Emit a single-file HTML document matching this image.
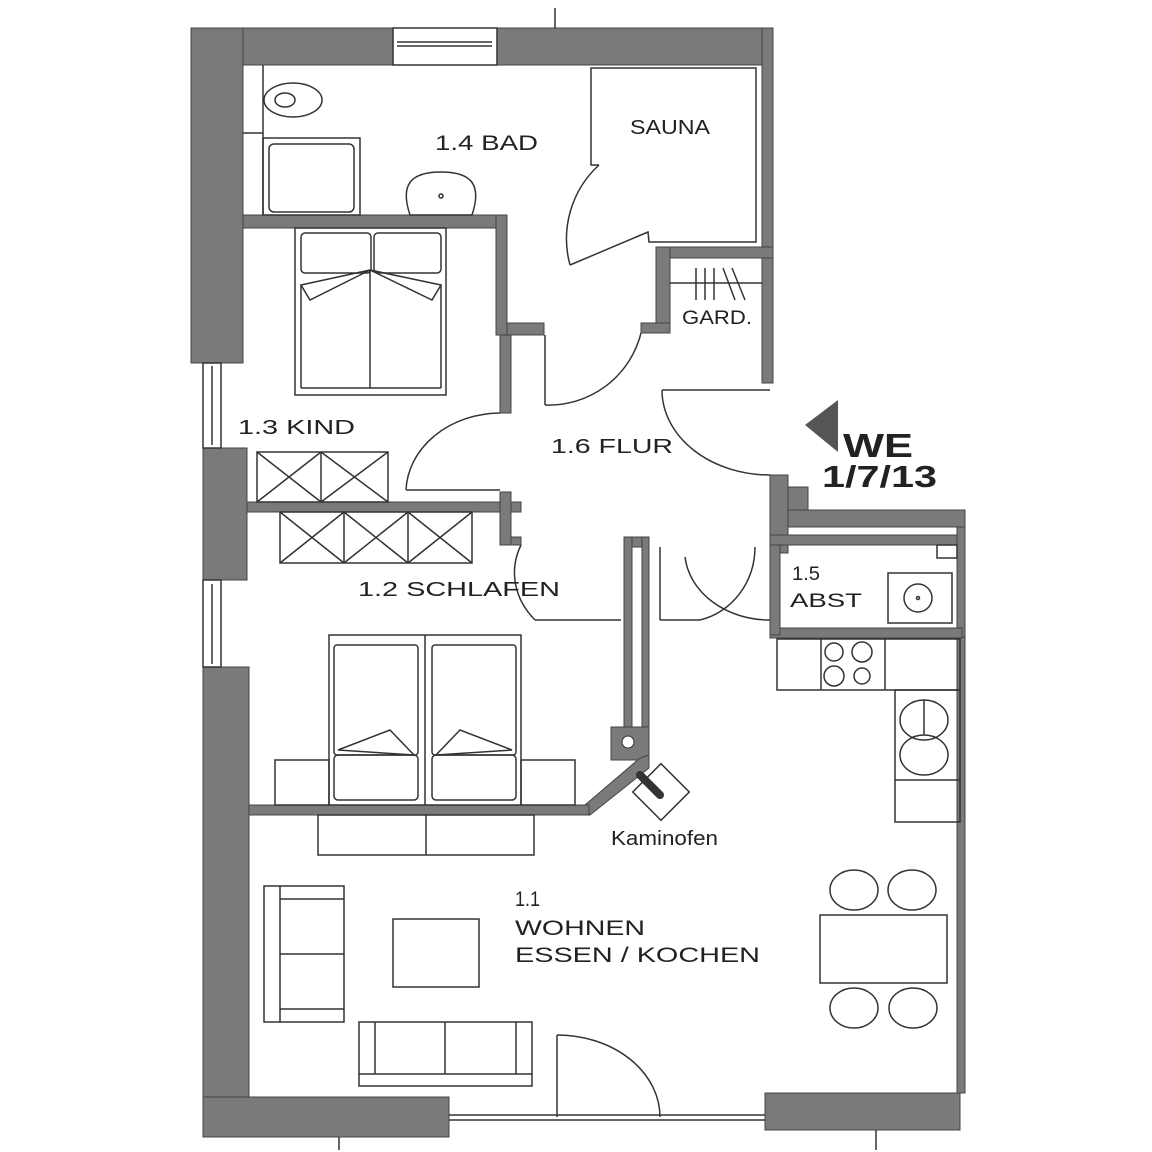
<!DOCTYPE html>
<html><head><meta charset="utf-8"><style>
html,body{margin:0;padding:0;background:#fff}
svg{display:block}
text{font-family:"Liberation Sans",sans-serif;fill:#222}
</style></head><body>
<svg width="1152" height="1152" viewBox="0 0 1152 1152" xmlns="http://www.w3.org/2000/svg">
<rect width="1152" height="1152" fill="#fff"/>
<g fill="#7a7a7a" stroke="#444" stroke-width="1">
<rect x="191" y="28" width="202" height="37"/>
<rect x="497" y="28" width="276" height="37"/>
<rect x="762" y="28" width="11" height="355"/>
<rect x="191" y="28" width="52" height="335"/>
<rect x="203" y="448" width="44" height="132"/>
<rect x="203" y="667" width="46" height="470"/>
<rect x="203" y="1097" width="246" height="40"/>
<rect x="765" y="1093" width="195" height="37"/>
<rect x="957" y="527" width="8" height="566"/>
<rect x="243" y="215" width="264" height="13"/>
<rect x="496" y="215" width="11" height="120"/>
<rect x="507" y="323" width="37" height="12"/>
<rect x="500" y="335" width="11" height="78"/>
<rect x="247" y="502" width="274" height="10"/>
<rect x="500" y="492" width="11" height="53"/>
<rect x="511" y="537" width="10" height="8"/>
<rect x="656" y="247" width="117" height="11"/>
<rect x="656" y="247" width="14" height="86"/>
<rect x="641" y="323" width="29" height="10"/>
<rect x="770" y="475" width="18" height="78"/>
<rect x="788" y="487" width="20" height="40"/>
<rect x="788" y="510" width="177" height="17"/>
<rect x="770" y="535" width="190" height="10"/>
<rect x="957" y="527" width="8" height="110"/>
<rect x="770" y="628" width="192" height="10"/>
<rect x="770" y="545" width="10" height="90"/>
<rect x="624" y="537" width="25" height="10"/>
<rect x="624" y="537" width="8" height="200"/>
<rect x="642" y="537" width="7" height="200"/>
<rect x="611" y="727" width="38" height="33"/>
<polygon points="649,755 649,768 590,815 585,805 640,758"/>
<rect x="249" y="805" width="340" height="10"/>
</g>
<circle cx="628" cy="742" r="6" fill="#fff" stroke="#333"/>
<g fill="none" stroke="#333" stroke-width="1.5">
<rect x="393" y="28" width="104" height="37" fill="#fff"/>
<line x1="397" y1="42" x2="492" y2="42"/><line x1="397" y1="46" x2="492" y2="46"/>
<rect x="203" y="363" width="18" height="85" fill="#fff"/><line x1="212" y1="366" x2="212" y2="445"/>
<rect x="203" y="580" width="18" height="87" fill="#fff"/><line x1="212" y1="584" x2="212" y2="664"/>
<line x1="449" y1="1115" x2="765" y2="1115"/><line x1="449" y1="1120" x2="765" y2="1120"/>
<line x1="339" y1="1137" x2="339" y2="1150"/><line x1="876" y1="1130" x2="876" y2="1150"/>
<line x1="555" y1="8" x2="555" y2="28"/>
<line x1="263" y1="65" x2="263" y2="215"/><line x1="243" y1="133" x2="263" y2="133"/>
<ellipse cx="293" cy="100" rx="29" ry="17"/><ellipse cx="285" cy="100" rx="10" ry="7"/>
<rect x="263" y="138" width="97" height="77"/><rect x="269" y="144" width="85" height="68" rx="5"/>
<path d="M410,215 C400,185 410,172 441,172 C472,172 482,185 472,215 Z"/><circle cx="441" cy="196" r="2"/>
<path d="M599,165 L591,165 L591,68 L756,68 L756,242 L649,242 L648,232 L570,265"/>
<path d="M599,165 A100,100 0 0 0 570,265"/>
<line x1="670" y1="283" x2="762" y2="283"/>
<line x1="696" y1="268" x2="696" y2="300"/><line x1="705" y1="268" x2="705" y2="300"/><line x1="714" y1="268" x2="714" y2="300"/>
<line x1="723" y1="268" x2="735" y2="300"/><line x1="732" y1="268" x2="745" y2="300"/>
<line x1="545" y1="335" x2="545" y2="405"/><path d="M545,405 A95,95 0 0 0 641,333"/>
<line x1="500" y1="490" x2="406" y2="490"/><path d="M406,490 A95,80 0 0 1 500,413"/>
<line x1="770" y1="390" x2="662" y2="390"/><path d="M662,390 A108,85 0 0 0 770,475"/>
<line x1="621" y1="620" x2="535" y2="620"/><path d="M535,620 A92,75 0 0 1 521,545"/>
<line x1="660" y1="547" x2="660" y2="620"/><line x1="660" y1="620" x2="700" y2="620"/>
<path d="M685,557 A85,70 0 0 0 770,620"/>
<path d="M755,547 A70,75 0 0 1 700,620"/>
<line x1="557" y1="1117" x2="557" y2="1035"/><path d="M557,1035 A103,82 0 0 1 660,1117"/>
<rect x="295" y="228" width="151" height="167"/>
<rect x="301" y="233" width="70" height="40" rx="4"/><rect x="374" y="233" width="67" height="40" rx="4"/>
<line x1="370" y1="270" x2="370" y2="388"/><line x1="301" y1="285" x2="301" y2="388"/><line x1="441" y1="285" x2="441" y2="388"/>
<line x1="301" y1="388" x2="441" y2="388"/>
<path d="M301,285 L370,270 L310,300 Z"/><path d="M441,285 L370,270 L432,300 Z"/>
<rect x="257" y="452" width="131" height="50"/><line x1="321" y1="452" x2="321" y2="502"/>
<path d="M257,452 L321,502 M321,452 L257,502 M321,452 L388,502 M388,452 L321,502"/>
<rect x="280" y="512" width="192" height="51"/><line x1="344" y1="512" x2="344" y2="563"/><line x1="408" y1="512" x2="408" y2="563"/>
<path d="M280,512 L344,563 M344,512 L280,563 M344,512 L408,563 M408,512 L344,563 M408,512 L472,563 M472,512 L408,563"/>
<rect x="329" y="635" width="192" height="170"/><line x1="425" y1="635" x2="425" y2="805"/>
<rect x="334" y="645" width="84" height="110" rx="3"/><rect x="432" y="645" width="84" height="110" rx="3"/>
<rect x="334" y="755" width="84" height="45" rx="4"/><rect x="432" y="755" width="84" height="45" rx="4"/>
<path d="M338,750 L414,755 L390,730 Z"/><path d="M512,750 L436,755 L460,730 Z"/>
<rect x="275" y="760" width="54" height="45"/><rect x="521" y="760" width="54" height="45"/>
<rect x="641" y="772" width="40" height="40" transform="rotate(45 661 792)"/>
<path d="M640,775 L660,795" stroke-width="8" stroke-linecap="round"/>
<rect x="888" y="573" width="64" height="50"/><circle cx="918" cy="598" r="14"/><circle cx="918" cy="598" r="1.5"/>
<rect x="937" y="545" width="20" height="13"/>
<rect x="777" y="639" width="183" height="51"/><line x1="821" y1="639" x2="821" y2="690"/><line x1="885" y1="639" x2="885" y2="690"/>
<circle cx="834" cy="652" r="9"/><circle cx="862" cy="652" r="10"/><circle cx="834" cy="676" r="10"/><circle cx="862" cy="676" r="8"/>
<rect x="895" y="690" width="65" height="132"/><line x1="895" y1="780" x2="960" y2="780"/>
<ellipse cx="924" cy="720" rx="24" ry="20"/><ellipse cx="924" cy="755" rx="24" ry="20"/><line x1="924" y1="700" x2="924" y2="735"/>
<rect x="318" y="815" width="216" height="40"/><line x1="426" y1="815" x2="426" y2="855"/>
<rect x="264" y="886" width="80" height="136"/><line x1="280" y1="886" x2="280" y2="1022"/>
<line x1="280" y1="899" x2="344" y2="899"/><line x1="280" y1="954" x2="344" y2="954"/><line x1="280" y1="1009" x2="344" y2="1009"/>
<rect x="393" y="919" width="86" height="68"/>
<rect x="359" y="1022" width="173" height="64"/><line x1="375" y1="1022" x2="375" y2="1074"/><line x1="445" y1="1022" x2="445" y2="1074"/><line x1="516" y1="1022" x2="516" y2="1074"/><line x1="359" y1="1074" x2="532" y2="1074"/>
<rect x="820" y="915" width="127" height="68"/>
<ellipse cx="854" cy="890" rx="24" ry="20"/><ellipse cx="912" cy="890" rx="24" ry="20"/>
<ellipse cx="854" cy="1008" rx="24" ry="20"/><ellipse cx="913" cy="1008" rx="24" ry="20"/>
</g>
<polygon points="805,425 838,400 838,452" fill="#555"/>
<text x="435" y="150" font-size="21" textLength="103" lengthAdjust="spacingAndGlyphs">1.4 BAD</text>
<text x="630" y="134" font-size="20" textLength="80" lengthAdjust="spacingAndGlyphs">SAUNA</text>
<text x="682" y="324" font-size="19" textLength="70" lengthAdjust="spacingAndGlyphs">GARD.</text>
<text x="238" y="434" font-size="20" textLength="117" lengthAdjust="spacingAndGlyphs">1.3 KIND</text>
<text x="551" y="453" font-size="20" textLength="122" lengthAdjust="spacingAndGlyphs">1.6 FLUR</text>
<text x="843" y="457" font-size="33" font-weight="bold" textLength="70" lengthAdjust="spacingAndGlyphs" fill="#444">WE</text>
<text x="822" y="487" font-size="31" font-weight="bold" textLength="115" lengthAdjust="spacingAndGlyphs" fill="#444">1/7/13</text>
<text x="358" y="596" font-size="20" textLength="202" lengthAdjust="spacingAndGlyphs">1.2 SCHLAFEN</text>
<text x="792" y="580" font-size="19" textLength="28" lengthAdjust="spacingAndGlyphs">1.5</text>
<text x="790" y="607" font-size="19" textLength="72" lengthAdjust="spacingAndGlyphs">ABST</text>
<text x="611" y="845" font-size="20" textLength="107" lengthAdjust="spacingAndGlyphs">Kaminofen</text>
<text x="515" y="906" font-size="21" textLength="25" lengthAdjust="spacingAndGlyphs">1.1</text>
<text x="515" y="935" font-size="21" textLength="130" lengthAdjust="spacingAndGlyphs">WOHNEN</text>
<text x="515" y="962" font-size="21" textLength="245" lengthAdjust="spacingAndGlyphs">ESSEN / KOCHEN</text>
</svg>
</body></html>
